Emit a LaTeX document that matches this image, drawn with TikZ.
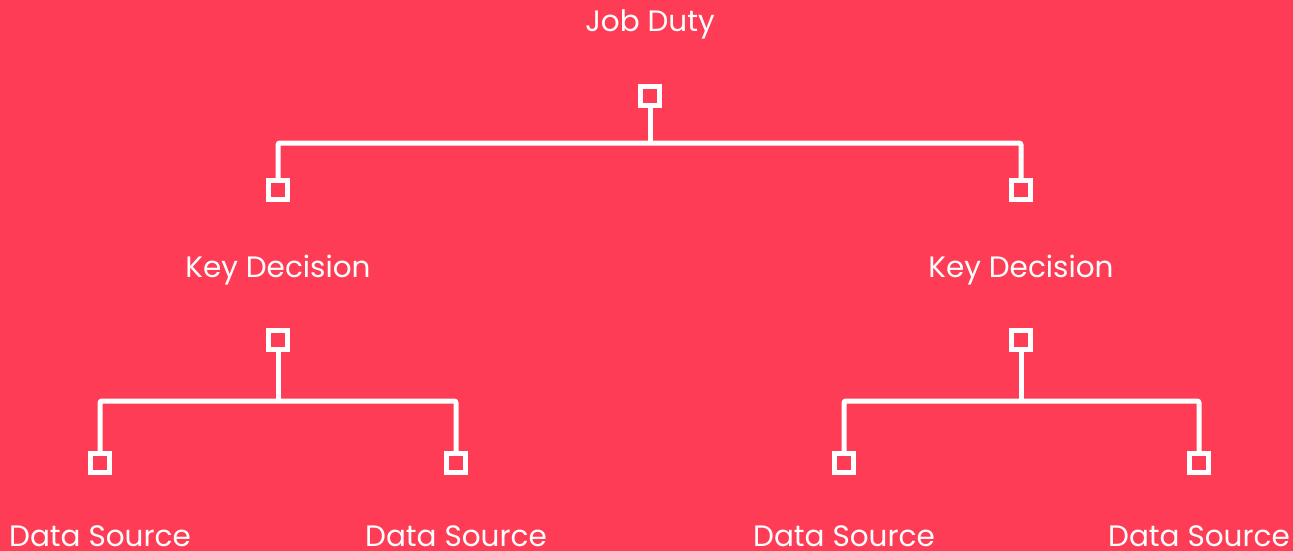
\documentclass[tikz,border=0pt]{standalone}
\usepackage{fontspec}
\setmainfont{Poppins}
\usetikzlibrary{positioning,calc}

\definecolor{bgred}{HTML}{FF3C55}

\tikzset{
	box/.style={draw=white, line width=5pt, fill=bgred, minimum size=19pt, inner sep=0pt},
	link/.style={draw=white, line width=5pt, rounded corners=2pt},
	caption/.style={text=white, anchor=base, font=\fontsize{29.5}{33}\selectfont, inner sep=0pt}
}

\begin{document}
\begin{tikzpicture}[x=1pt, y=-1pt]
	\fill[bgred] (0,0) rectangle (1293,551);
	\useasboundingbox (0,0) rectangle (1293,551);

	% top level
	\node[caption] (jd) at (650,32) {Job Duty};
	\node[box] (jdbox) at (650,96) {};

	% key decisions
	\node[box] (kdin1) at (278,190) {};
	\node[box] (kdin2) at (1021,190) {};
	\node[caption] (kd1) at (278,277) {Key Decision};
	\node[caption] (kd2) at (1021,277) {Key Decision};
	\node[box] (kdout1) at (278,340) {};
	\node[box] (kdout2) at (1021,340) {};

	% data sources
	\node[box] (dsbox1) at (100,463) {};
	\node[box] (dsbox2) at (456,463) {};
	\node[box] (dsbox3) at (844,463) {};
	\node[box] (dsbox4) at (1199,463) {};
	\node[caption] (ds1) at (100,546) {Data Source};
	\node[caption] (ds2) at (456,546) {Data Source};
	\node[caption] (ds3) at (844,546) {Data Source};
	\node[caption] (ds4) at (1199,546) {Data Source};

	\coordinate (jdj) at ($(jdbox.south)+(0,35)$);
	\coordinate (kdj1) at ($(kdout1.south)+(0,49)$);
	\coordinate (kdj2) at ($(kdout2.south)+(0,49)$);

	\draw[link] (jdbox.south) -- (jdj);
	\draw[link] (kdin1.north) |- (jdj) -| (kdin2.north);
	\draw[link] (kdout1.south) -- (kdj1);
	\draw[link] (dsbox1.north) |- (kdj1) -| (dsbox2.north);
	\draw[link] (kdout2.south) -- (kdj2);
	\draw[link] (dsbox3.north) |- (kdj2) -| (dsbox4.north);
\end{tikzpicture}
\end{document}
